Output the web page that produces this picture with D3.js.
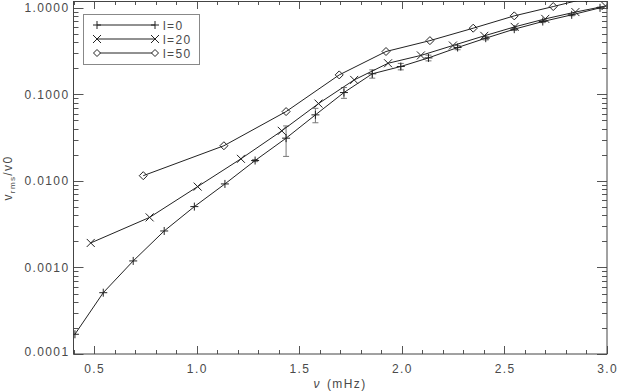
<!DOCTYPE html>
<html>
<head>
<meta charset="utf-8">
<script src="https://cdn.jsdelivr.net/npm/d3@7"></script>
<style>
  body { margin: 0; background: #fff; }
  svg { display: block; }
  text { font-family: "Liberation Sans", Arial, sans-serif; fill: #4a4a4a; letter-spacing: 1.4px; }
</style>
</head>
<body>
<div id="chart"></div>
<script>
// values
const nu0 = [0.407, 0.545, 0.691, 0.842, 0.989, 1.138, 1.285, 1.436, 1.579, 1.718, 1.856, 1.995, 2.130, 2.272, 2.409, 2.548, 2.687, 2.828, 2.966];
const v0 = [0.000169, 0.000511, 0.00119, 0.00264, 0.00505, 0.00923, 0.0172, 0.0312, 0.058, 0.105, 0.173, 0.210, 0.264, 0.348, 0.446, 0.567, 0.695, 0.830, 1.0];
const err0 = [0, 0, 0, 0, 0, 0, 0.0005, 0.012, 0.011, 0.015, 0.019, 0.018, 0.02, 0.02, 0.02, 0.02, 0.02, 0.02, 0.02];

const nu20 = [0.484, 0.771, 1.005, 1.216, 1.415, 1.594, 1.768, 1.933, 2.093, 2.249, 2.402, 2.550, 2.699, 2.846, 2.993];
const v20 = [0.00192, 0.00379, 0.0086, 0.0180, 0.0379, 0.0783, 0.147, 0.229, 0.282, 0.367, 0.475, 0.603, 0.746, 0.894, 1.05];

const nu50 = [0.740, 1.133, 1.436, 1.695, 1.923, 2.137, 2.348, 2.548, 2.738, 2.900];
const v50 = [0.0115, 0.0255, 0.0633, 0.168, 0.313, 0.418, 0.582, 0.808, 1.035, 1.29];

const xMajor = [0.5, 1.0, 1.5, 2.0, 2.5, 3.0];
const yMajor = [0.0001, 0.001, 0.01, 0.1, 1.0];
const legendLabels = ["l=0", "l=20", "l=50"];

const width = 617, height = 392;
const pLeft = 73.5, pRight = 607, pTop = 1, pBottom = 354;

const svg = d3.select('#chart').append('svg')
    .attr('width', width)
    .attr('height', height);

const x = d3.scaleLinear().domain([0.4, 3.0]).range([pLeft, pRight]);
const y = d3.scaleLog().domain([0.0001, 1.2]).range([pBottom, pTop]);

svg.append('clipPath').attr('id', 'plot')
    .append('rect')
    .attr('x', pLeft).attr('y', pTop)
    .attr('width', pRight - pLeft).attr('height', pBottom - pTop);

// minor ticks
const xMinor = d3.range(4, 31).map(d => d / 10).filter(d => !xMajor.some(m => Math.abs(m - d) < 1e-6));
const yMinor = [];
yMajor.slice(0, 4).forEach(m => { for (let k = 2; k <= 9; k++) yMinor.push(m * k); });

const tickCol = '#555';
const ticks = svg.append('g').attr('stroke', tickCol).attr('stroke-width', 1);

xMinor.forEach(d => {
    const px = Math.round(x(d)) + 0.5;
    ticks.append('line').attr('x1', px).attr('x2', px).attr('y1', pBottom).attr('y2', pBottom - 4);
    ticks.append('line').attr('x1', px).attr('x2', px).attr('y1', pTop).attr('y2', pTop + 4);
});
xMajor.forEach(d => {
    const px = Math.round(x(d)) + 0.5;
    ticks.append('line').attr('x1', px).attr('x2', px).attr('y1', pBottom).attr('y2', pBottom - 8);
    ticks.append('line').attr('x1', px).attr('x2', px).attr('y1', pTop).attr('y2', pTop + 8);
});
yMinor.forEach(d => {
    const py = Math.round(y(d)) + 0.5;
    ticks.append('line').attr('x1', pLeft).attr('x2', pLeft + 5).attr('y1', py).attr('y2', py);
    ticks.append('line').attr('x1', pRight).attr('x2', pRight - 5).attr('y1', py).attr('y2', py);
});
yMajor.forEach(d => {
    const py = Math.round(y(d)) + 0.5;
    ticks.append('line').attr('x1', pLeft).attr('x2', pLeft + 10).attr('y1', py).attr('y2', py);
    ticks.append('line').attr('x1', pRight).attr('x2', pRight - 10).attr('y1', py).attr('y2', py);
});

// frame
svg.append('rect')
    .attr('x', pLeft).attr('y', pTop + 0.5)
    .attr('width', pRight - pLeft).attr('height', pBottom - pTop - 0.5)
    .attr('fill', 'none').attr('stroke', '#444').attr('stroke-width', 1);

// tick labels
svg.append('g').selectAll('text')
    .data(xMajor)
    .enter().append('text')
    .attr('x', d => x(d) + 0.7)
    .attr('y', 373)
    .attr('text-anchor', 'middle')
    .attr('font-size', '12px')
    .text(d3.format('.1f'));

svg.append('g').selectAll('text')
    .data(yMajor)
    .enter().append('text')
    .attr('x', 69.5)
    .attr('y', d => Math.min(y(d), 351) + 4.5)
    .attr('text-anchor', 'end')
    .attr('font-size', '12px')
    .text(d3.format('.4f'));

// axis titles
const xt = svg.append('text')
    .attr('x', 340).attr('y', 388)
    .attr('text-anchor', 'middle')
    .attr('font-size', '12px');
xt.append('tspan').attr('font-style', 'italic').text('ν');
xt.append('tspan').attr('dx', 6).text('(mHz)');

const yt = svg.append('text')
    .attr('transform', 'translate(12,178) rotate(-90)')
    .attr('text-anchor', 'middle')
    .attr('font-size', '12px');
yt.append('tspan').text('v');
yt.append('tspan').attr('font-size', '8px').attr('dy', 3).text('rms');
yt.append('tspan').attr('dy', -3).text('/v0');

// markers
const plusPath = 'M-4,0H4M0,-4V4';
const crossPath = 'M-4,-4L4,4M-4,4L4,-4';
const diamondPath = 'M0,-4L4,0L0,4L-4,0Z';

const plot = svg.append('g').attr('clip-path', 'url(#plot)');
const line = d3.line().x(d => x(d[0])).y(d => y(d[1]));

function series(nu, v, path) {
    const pts = nu.map((d, i) => [d, v[i]]);
    plot.append('path')
        .attr('d', line(pts))
        .attr('fill', 'none')
        .attr('stroke', '#222')
        .attr('stroke-width', 1);
    plot.selectAll(null)
        .data(pts)
        .enter().append('path')
        .attr('transform', d => `translate(${x(d[0])},${y(d[1])})`)
        .attr('d', path)
        .attr('fill', 'none')
        .attr('stroke', '#222')
        .attr('stroke-width', 1);
}

// error bars for l=0
const errG = plot.append('g').attr('stroke', '#777').attr('stroke-width', 1);
nu0.forEach((d, i) => {
    if (!err0[i]) return;
    const px = x(d), y1 = y(v0[i] + err0[i]), y2 = y(Math.max(v0[i] - err0[i], 1e-5));
    errG.append('line').attr('x1', px).attr('x2', px).attr('y1', y1).attr('y2', y2);
    errG.append('line').attr('x1', px - 3).attr('x2', px + 3).attr('y1', y1).attr('y2', y1);
    errG.append('line').attr('x1', px - 3).attr('x2', px + 3).attr('y1', y2).attr('y2', y2);
});

series(nu0, v0, plusPath);
series(nu20, v20, crossPath);
series(nu50, v50, diamondPath);

// legend
const lg = svg.append('g');
lg.append('rect')
    .attr('x', 83.5).attr('y', 14.5)
    .attr('width', 116).attr('height', 50)
    .attr('fill', '#fff').attr('stroke', '#888');
const legPaths = [plusPath, crossPath, 'M0,-3.5L3.5,0L0,3.5L-3.5,0Z'];
legendLabels.forEach((lab, i) => {
    const ly = 25 + i * 14;
    lg.append('line').attr('x1', 97).attr('x2', 155).attr('y1', ly).attr('y2', ly)
        .attr('stroke', '#222');
    [97, 155].forEach(lx => {
        lg.append('path').attr('transform', `translate(${lx},${ly})`)
            .attr('d', legPaths[i]).attr('fill', i === 2 ? '#fff' : 'none').attr('stroke', '#222');
    });
    lg.append('text').attr('x', 163).attr('y', ly + 4.5)
        .attr('font-size', '12px').text(lab);
});
</script>
</body>
</html>
